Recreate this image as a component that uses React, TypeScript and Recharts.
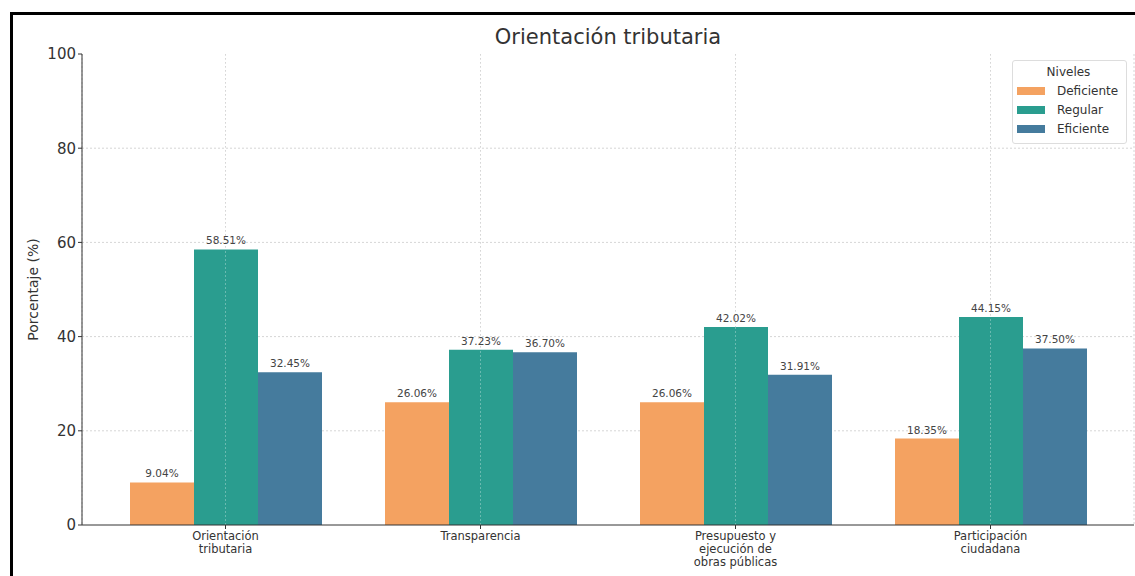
import { Bar, BarChart, CartesianGrid, LabelList, ReferenceLine, XAxis, YAxis } from "recharts";

const categories = [
  "Orientación\ntributaria",
  "Transparencia",
  "Presupuesto y\nejecución de\nobras públicas",
  "Participación\nciudadana",
];
const deficiente = [9.04, 26.06, 26.06, 18.35];
const regular = [58.51, 37.23, 42.02, 44.15];
const eficiente = [32.45, 36.7, 31.91, 37.5];
const yTicks = [0, 20, 40, 60, 80, 100];

const series = [
  { key: "Deficiente", color: "#f4a261" },
  { key: "Regular", color: "#2a9d8f" },
  { key: "Eficiente", color: "#457b9d" },
];

const data = categories.map((name, i) => ({
  name,
  Deficiente: deficiente[i],
  Regular: regular[i],
  Eficiente: eficiente[i],
}));

const FONT = "'DejaVu Sans', sans-serif";

const XTick = (props: any) => {
  const { x, y, payload } = props;
  const lines = String(payload.value).split("\n");
  return (
    <text x={x} y={y + 9} textAnchor="middle" fontSize={11.5} fill="#333" fontFamily={FONT}>
      {lines.map((l, i) => (
        <tspan key={i} x={x} dy={i === 0 ? 0 : 13}>
          {l}
        </tspan>
      ))}
    </text>
  );
};

const LegendBox = () => (
  <div
    style={{
      position: "absolute",
      left: 1012,
      top: 60,
      border: "1px solid #ddd",
      borderRadius: 3,
      background: "rgba(255,255,255,0.85)",
      fontFamily: FONT,
      fontSize: 12,
      color: "#333",
      padding: "4px 6px 5px 4px",
      width: 103,
    }}
  >
    <div style={{ textAlign: "center", marginBottom: 2 }}>Niveles</div>
    {series.map((s) => (
      <div key={s.key} style={{ display: "flex", alignItems: "center", height: 19 }}>
        <span style={{ display: "inline-block", width: 28, height: 8, background: s.color, marginRight: 12 }} />
        <span>{s.key}</span>
      </div>
    ))}
  </div>
);

const App = () => {
  return (
    <div style={{ position: "absolute", left: 0, top: 0, width: 1135, height: 576, overflow: "hidden", background: "#fff" }}>
      <div
        style={{
          position: "absolute",
          left: 10,
          top: 12,
          width: 2000,
          height: 2000,
          border: "3px solid #000",
        }}
      />
      <div
        style={{
          position: "absolute",
          left: 82,
          width: 1052,
          top: 25,
          textAlign: "center",
          fontFamily: FONT,
          fontSize: 21,
          color: "#333",
        }}
      >
        Orientación tributaria
      </div>
      <div style={{ position: "absolute", left: 0, top: 0 }}>
        <BarChart
          width={1135}
          height={576}
          data={data}
          margin={{ top: 54, right: 1, bottom: 0, left: 0 }}
          barGap={0}
          barSize={64}
        >
          <CartesianGrid stroke="#d6d6d6" strokeDasharray="2 2" horizontalValues={[20, 40, 60, 80]} />
          <XAxis
            dataKey="name"
            height={51}
            padding={{ left: 16, right: 16 }}
            interval={0}
            tick={<XTick />}
            tickSize={4}
            stroke="#333"
          />
          <YAxis
            width={82}
            domain={[0, 100]}
            ticks={yTicks}
            tickSize={4}
            stroke="#333"
            tick={{ fontSize: 15, fill: "#333", fontFamily: FONT }}
            label={{
              value: "Porcentaje (%)",
              angle: -90,
              position: "insideLeft",
              dx: 28,
              style: { fontSize: 14, fill: "#333", fontFamily: FONT, textAnchor: "middle" },
            }}
          />
          {series.map((s) => (
            <Bar key={s.key} dataKey={s.key} fill={s.color} isAnimationActive={false}>
              <LabelList
                dataKey={s.key}
                position="top"
                offset={5}
                formatter={(v: any) => `${Number(v).toFixed(2)}%`}
                style={{ fontSize: 10.5, fill: "#444", fontFamily: FONT }}
              />
            </Bar>
          ))}
          {categories.map((c) => (
            <ReferenceLine key={c} x={c} stroke="rgba(255,255,255,0.3)" strokeDasharray="2 2" />
          ))}
        </BarChart>
      </div>
      <LegendBox />
    </div>
  );
};

export default App;
